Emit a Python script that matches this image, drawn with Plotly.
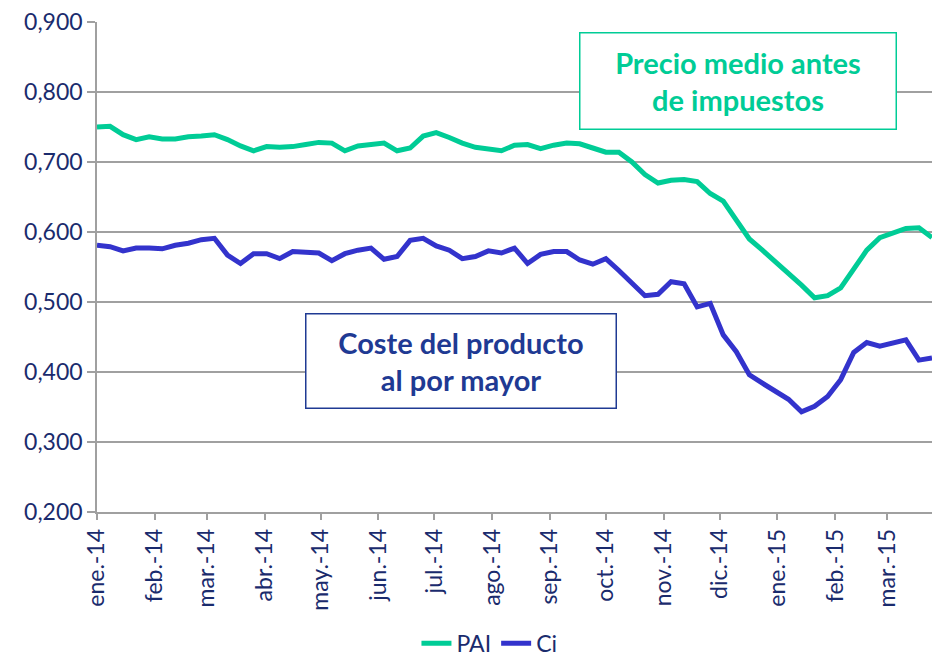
import pandas as pd
import plotly.graph_objects as go

# Weekly observations (Mondays) from January 2014 to end of March 2015
dates = pd.date_range("2014-01-06", periods=65, freq="7D")

pai = [0.750, 0.751, 0.739, 0.732, 0.736, 0.733, 0.733, 0.736, 0.737, 0.739,
       0.732, 0.723, 0.716, 0.722, 0.721, 0.722, 0.725, 0.728, 0.727, 0.716,
       0.723, 0.725, 0.727, 0.716, 0.720, 0.737, 0.742, 0.735, 0.727, 0.721,
       0.719, 0.716, 0.724, 0.725, 0.719, 0.724, 0.727, 0.726, 0.720, 0.714,
       0.714, 0.700, 0.682, 0.670, 0.674, 0.675, 0.672, 0.655, 0.644, 0.617,
       0.590, 0.574, 0.558, 0.541, 0.524, 0.506, 0.509, 0.520, 0.547, 0.574,
       0.592, 0.599, 0.605, 0.606, 0.592]

ci = [0.581, 0.579, 0.573, 0.577, 0.577, 0.576, 0.581, 0.584, 0.589, 0.591,
      0.567, 0.555, 0.569, 0.569, 0.562, 0.572, 0.571, 0.570, 0.559, 0.569,
      0.574, 0.577, 0.561, 0.565, 0.588, 0.591, 0.580, 0.574, 0.562, 0.565,
      0.573, 0.570, 0.577, 0.555, 0.568, 0.572, 0.572, 0.560, 0.554, 0.562,
      0.545, 0.526, 0.509, 0.511, 0.529, 0.526, 0.493, 0.498, 0.453, 0.429,
      0.396, 0.384, 0.373, 0.361, 0.343, 0.351, 0.365, 0.389, 0.428, 0.442,
      0.437, 0.441, 0.446, 0.417, 0.420]

tick_dates = pd.date_range("2014-01-01", periods=15, freq="MS") + pd.Timedelta(days=5)
tick_labels = ["ene.-14", "feb.-14", "mar.-14", "abr.-14", "may.-14", "jun.-14",
               "jul.-14", "ago.-14", "sep.-14", "oct.-14", "nov.-14", "dic.-14",
               "ene.-15", "feb.-15", "mar.-15"]

GREEN = "#00CC96"
BLUE = "#3333CC"
TXT = "#1A2B6D"
GRID = "#A0A0A0"
FONT = "Lato, Carlito, Calibri, sans-serif"

fig = go.Figure()
fig.add_trace(go.Scatter(x=dates, y=pai, name="PAI", mode="lines",
                         line=dict(color=GREEN, width=5)))
fig.add_trace(go.Scatter(x=dates, y=ci, name="Ci", mode="lines",
                         line=dict(color=BLUE, width=5)))

fig.update_layout(
    width=932, height=667, autosize=False,
    margin=dict(l=97, r=0, t=22, b=155),
    paper_bgcolor="white", plot_bgcolor="white",
    separators=",.",
    font=dict(family=FONT, size=23, color=TXT),
    showlegend=True,
    legend=dict(orientation="h", x=0.47, xanchor="center", y=-0.312, yanchor="bottom",
                font=dict(size=23, color=TXT), tracegroupgap=0),
    xaxis=dict(
        type="date", automargin=False,
        range=[dates[0], dates[-1]],
        tickmode="array", tickvals=tick_dates, ticktext=tick_labels,
        tickangle=-90, ticks="outside", ticklen=6, tickcolor=GRID, tickwidth=1.5,
        showline=True, linecolor=GRID, linewidth=1.5,
        showgrid=False, zeroline=False,
        tickfont=dict(size=23, color=TXT),
    ),
    yaxis=dict(
        automargin=False,
        range=[0.2, 0.9], dtick=0.1, tick0=0.2, tickformat=".3f",
        ticks="outside", ticklen=8, tickcolor=GRID, tickwidth=1.5,
        showline=True, linecolor=GRID, linewidth=1.5,
        showgrid=True, gridcolor=GRID, gridwidth=1.5, zeroline=False,
        tickfont=dict(size=23, color=TXT),
    ),
)

fig.add_annotation(
    xref="paper", yref="paper", x=0.768, y=0.879, xanchor="center", yanchor="middle",
    text="<b>Precio medio antes<br>de impuestos</b>", showarrow=False,
    font=dict(family=FONT, size=29, color=GREEN),
    width=313, height=93, borderpad=1, bordercolor=GREEN, borderwidth=1.5,
    bgcolor="white", align="center",
)
fig.add_annotation(
    xref="paper", yref="paper", x=0.4365, y=0.309, xanchor="center", yanchor="middle",
    text="<b>Coste del producto<br>al por mayor</b>", showarrow=False,
    font=dict(family=FONT, size=29, color="#1F3A93"),
    width=307, height=91, borderpad=1, bordercolor="#1F3A93", borderwidth=1.5,
    bgcolor="white", align="center",
)

fig.write_html(
    "out.html",
    config={"responsive": False, "displayModeBar": False},
    post_script="document.body.style.margin='0';document.body.style.overflow='hidden';",
)
